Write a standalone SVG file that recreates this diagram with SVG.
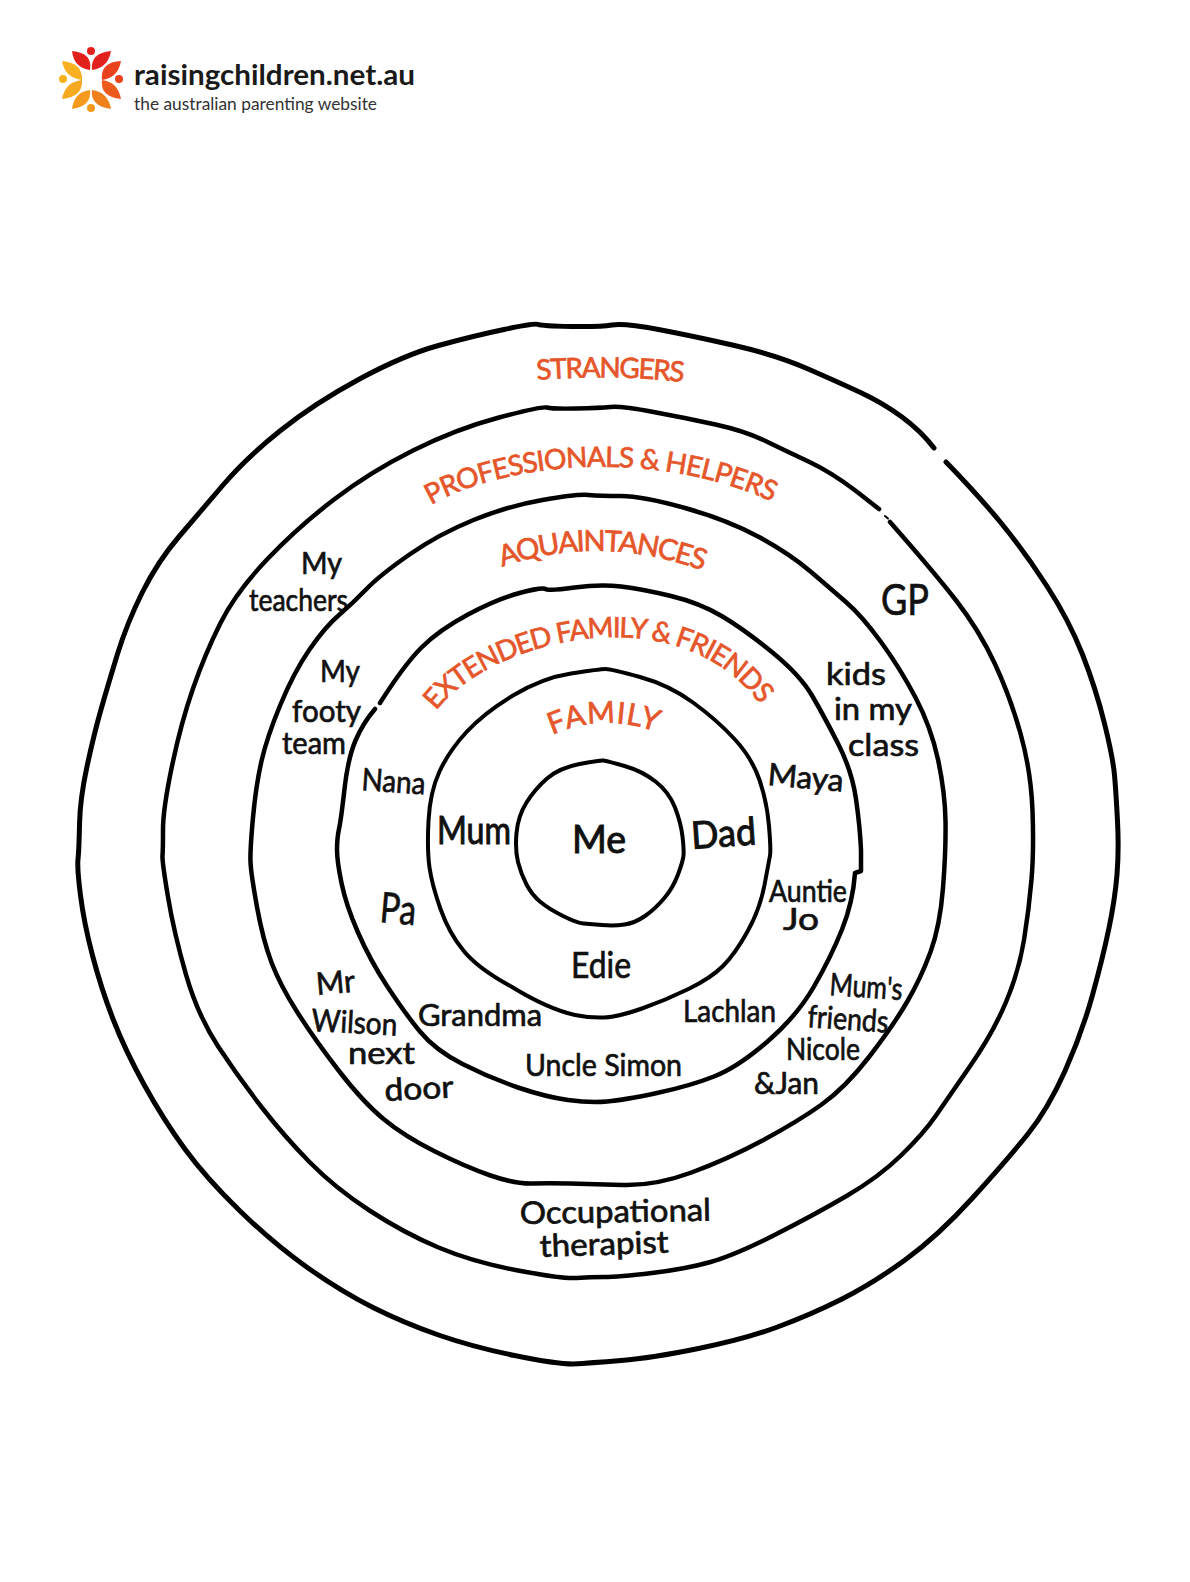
<svg xmlns="http://www.w3.org/2000/svg" width="1190" height="1582" viewBox="0 0 1190 1582">
<style>
.r{fill:none;stroke:#000;stroke-linejoin:round;stroke-linecap:round}
.n{font-family:Lato,"Liberation Sans",sans-serif;font-size:31px;fill:#111;stroke:#111;stroke-width:.7px}
.b{font-size:38px;stroke-width:1px}
.o{font-family:Lato,"Liberation Sans",sans-serif;fill:#e5562a;stroke:#e5562a;stroke-width:.7px;font-size:28px}
.l1{font-family:Lato,"Open Sans",sans-serif;font-size:29px;font-weight:700;fill:#1a1a1a}
.l2{font-family:Lato,"Open Sans",sans-serif;font-size:18px;fill:#333}
</style>
<defs>
<path id="p1" d="M537 380Q610 374 684 382"/>
<path id="p2" d="M431 505C500 465 650 445 775 503"/>
<path id="p3" d="M502 567Q600 533 704 571"/>
<path id="p4" d="M436 711C490 640 680 590 763 708"/>
<path id="p5" d="M552 735Q605 712 659 733"/>
</defs>
<rect width="1190" height="1582" fill="#fff"/>
<g id="logo">
<circle cx="91" cy="51" r="4" fill="#e2211c"/><circle cx="119" cy="79" r="4" fill="#e8431c"/><circle cx="91" cy="108" r="4" fill="#f59a1d"/><circle cx="63" cy="79" r="4" fill="#f7b31f"/>
<path d="M72 51Q93 53 90 70Q74 68 72 51Z" fill="#e2211c"/>
<path d="M111 51Q90 53 92 70Q108 68 111 51Z" fill="#e2211c"/>
<path d="M121 61Q100 62 102 80Q118 78 121 61Z" fill="#e8431c"/>
<path d="M121 99Q118 82 102 80Q100 97 121 99Z" fill="#ec5a1c"/>
<path d="M111 109Q108 92 92 90Q90 106 111 109Z" fill="#f0801c"/>
<path d="M72 109Q74 92 90 90Q92 106 72 109Z" fill="#f59a1d"/>
<path d="M62 99Q65 82 82 80Q83 97 62 99Z" fill="#f6a81e"/>
<path d="M62 61Q65 78 82 80Q83 63 62 61Z" fill="#f7b01f"/>
<text class="l1" x="134" y="85" textLength="281" lengthAdjust="spacingAndGlyphs">raisingchildren.net.au</text>
<text class="l2" x="134" y="110" textLength="243" lengthAdjust="spacingAndGlyphs">the australian parenting website</text>
</g>
<g id="ring-strangers">
<path class="r" stroke-width="5" d="M946 462Q979 496 1001.5 523.5Q1024 551 1046.5 585.5Q1069 620 1082.5 654.5Q1096 689 1104.5 723.5Q1113 758 1114.5 775Q1116 792 1117.5 821Q1119 850 1117 874.5Q1115 899 1109 928Q1103 957 1092.5 995Q1082 1033 1065 1071Q1048 1109 1027.5 1134.5Q1007 1160 972.5 1198Q938 1236 905 1260Q872 1284 841 1299.5Q810 1315 777.5 1327Q745 1339 698.5 1348.5Q652 1358 621 1360.5Q590 1363 573 1364Q556 1364 514.5 1355.5Q473 1347 438.5 1335Q404 1323 373 1307.5Q342 1292 308 1268Q274 1244 240 1211Q206 1178 184.5 1148.5Q163 1119 144 1084.5Q125 1050 113 1019Q101 988 92.5 955.5Q84 923 80.5 895.5Q77 868 78 859Q79 850 79.5 824.5Q80 799 87 766.5Q94 734 101 709.5Q108 685 117.5 654Q127 623 142.5 592Q158 561 179.5 536Q201 511 223.5 484.5Q246 458 280.5 430.5Q315 403 359.5 379Q404 355 438.5 345.5Q473 336 504 329.5Q535 323 538.5 324.5Q542 326 571 326.5Q600 327 612 325Q624 323 658.5 329.5Q693 336 734.5 345.5Q776 355 807 368.5Q838 382 860.5 392.5Q883 403 902 417Q921 431 934 448"/>
<text class="o"><textPath href="#p1" textLength="147" lengthAdjust="spacing">STRANGERS</textPath></text>
</g>
<g id="ring-professionals">
<path class="r" stroke-width="4.5" d="M890 522Q934 572 956.5 601Q979 630 994.5 663Q1010 696 1020.5 733.5Q1031 771 1032.5 810.5Q1034 850 1031.5 879.5Q1029 909 1024 940Q1019 971 1006 1002Q993 1033 970.5 1065.5Q948 1098 936 1115.5Q924 1133 901.5 1155Q879 1177 846.5 1196Q814 1215 774.5 1235Q735 1255 710.5 1262Q686 1269 652 1273Q618 1277 604 1277Q590 1277 576.5 1278Q563 1279 518 1270.5Q473 1262 438.5 1247.5Q404 1233 369.5 1210.5Q335 1188 309.5 1162Q284 1136 261.5 1107Q239 1078 218.5 1047Q198 1016 186 974.5Q174 933 168 897Q162 861 162.5 855.5Q163 850 163 829.5Q163 809 172 766Q181 723 193 688.5Q205 654 220.5 623Q236 592 267 559.5Q298 527 334 499.5Q370 472 413 450.5Q456 429 499 417.5Q542 406 547 407.5Q552 409 576 408.5Q600 408 610.5 407Q621 406 653.5 412Q686 418 715.5 424.5Q745 431 765.5 441Q786 451 808.5 461.5Q831 472 856 491L879 509"/>
<path class="r" stroke-width="2" d="M885 516L888 518.5"/>
<text class="o"><textPath href="#p2" textLength="352" lengthAdjust="spacing">PROFESSIONALS &amp; HELPERS</textPath></text>
<text class="n" x="881" y="615" style="font-size:42px" textLength="48" lengthAdjust="spacingAndGlyphs">GP</text>
<text class="n" x="520" y="1224" transform="rotate(-1 520 1224)" textLength="191" lengthAdjust="spacingAndGlyphs">Occupational</text>
<text class="n" x="540" y="1257" transform="rotate(-2 540 1257)" textLength="129" lengthAdjust="spacingAndGlyphs">therapist</text>
<text class="n" x="301" y="574" textLength="41" lengthAdjust="spacingAndGlyphs">My</text>
<text class="n" x="249" y="611" textLength="99" lengthAdjust="spacingAndGlyphs">teachers</text>
</g>
<g id="ring-aquaintances">
<path class="r" stroke-width="4.5" d="M250.5 862Q250 850 253 817.5Q256 785 261.5 761Q267 737 280.5 704.5Q294 672 309.5 649.5Q325 627 339 615Q353 603 366.5 589Q380 575 409.5 554.5Q439 534 473.5 520Q508 506 542.5 500Q577 494 588.5 495Q600 496 621 496Q642 496 685 508Q728 520 759 537Q790 554 810.5 571.5Q831 589 846.5 602.5Q862 616 881 642Q900 668 915.5 697.5Q931 727 938 759.5Q945 792 945.5 821Q946 850 943 888Q940 926 930.5 952Q921 978 907 1002Q893 1026 869 1057Q845 1088 821 1105Q797 1122 762.5 1140.5Q728 1159 691.5 1172.5Q655 1186 622.5 1185Q590 1184 569.5 1183.5Q549 1183 532 1183.5Q515 1184 490.5 1175.5Q466 1167 435 1151.5Q404 1136 383.5 1119Q363 1102 339 1071Q315 1040 297.5 1012.5Q280 985 271.5 962.5Q263 940 257 907Q251 874 250.5 862Z"/>
<text class="o" style="font-size:29px"><textPath href="#p3" textLength="205" lengthAdjust="spacing">AQUAINTANCES</textPath></text>
<text class="n" x="320" y="682" textLength="40" lengthAdjust="spacingAndGlyphs">My</text>
<text class="n" x="292" y="722" textLength="69" lengthAdjust="spacingAndGlyphs">footy</text>
<text class="n" x="282" y="754" textLength="64" lengthAdjust="spacingAndGlyphs">team</text>
<text class="n" x="826" y="685" textLength="60" lengthAdjust="spacingAndGlyphs">kids</text>
<text class="n" x="834" y="720" textLength="78" lengthAdjust="spacingAndGlyphs">in my</text>
<text class="n" x="848" y="756" textLength="71" lengthAdjust="spacingAndGlyphs">class</text>
<text class="n" x="317" y="995" transform="rotate(-5 317 995)" textLength="39" lengthAdjust="spacingAndGlyphs">Mr</text>
<text class="n" x="311" y="1031" transform="rotate(3 311 1031)" textLength="86" lengthAdjust="spacingAndGlyphs">Wilson</text>
<text class="n" x="348" y="1064" textLength="67" lengthAdjust="spacingAndGlyphs">next</text>
<text class="n" x="385" y="1101" transform="rotate(-3 385 1101)" textLength="69" lengthAdjust="spacingAndGlyphs">door</text>
<text class="n" x="829" y="995" transform="rotate(4 829 995)" textLength="73" lengthAdjust="spacingAndGlyphs">Mum's</text>
<text class="n" x="807" y="1027" transform="rotate(4 807 1027)" textLength="81" lengthAdjust="spacingAndGlyphs">friends</text>
<text class="n" x="786" y="1060" textLength="74" lengthAdjust="spacingAndGlyphs">Nicole</text>
<text class="n" x="754" y="1094" textLength="65" lengthAdjust="spacingAndGlyphs">&amp;Jan</text>
</g>
<g id="ring-extended">
<path class="r" stroke-width="4.5" d="M380 703Q404 665 421.5 647.5Q439 630 468 614.5Q497 599 519.5 593Q542 587 545.5 589Q549 591 574.5 587.5Q600 584 621 586.5Q642 589 671 596Q700 603 722.5 616.5Q745 630 772.5 652.5Q800 675 812 695.5Q824 716 838 743.5Q852 771 856 799Q860 827 861 850L861 871L855 873Q853 902 842 929.5Q831 957 814 986.5Q797 1016 767.5 1041.5Q738 1067 714 1076.5Q690 1086 657 1093Q624 1100 607 1101.5Q590 1103 568 1100Q546 1097 518 1087.5Q490 1078 462.5 1064Q435 1050 419.5 1031Q404 1012 387 986Q370 960 358 932.5Q346 905 341.5 883Q337 861 337 850Q337 838 339 829Q341 820 344.5 789Q348 758 355.5 740.5Q363 723 375 709"/>
<text class="o"><textPath href="#p4" textLength="366" lengthAdjust="spacing">EXTENDED FAMILY &amp; FRIENDS</textPath></text>
<text class="n" x="361" y="790" transform="rotate(4 361 790)" textLength="64" lengthAdjust="spacingAndGlyphs">Nana</text>
<text class="n" x="767" y="785" transform="rotate(5 767 785)" textLength="76" lengthAdjust="spacingAndGlyphs">Maya</text>
<text class="n" x="769" y="902" textLength="78" lengthAdjust="spacingAndGlyphs">Auntie</text>
<text class="n" x="783" y="930" textLength="36" lengthAdjust="spacingAndGlyphs">Jo</text>
<text class="n" x="379" y="922" transform="rotate(5 379 922)" style="font-size:42px" textLength="36" lengthAdjust="spacingAndGlyphs">Pa</text>
<text class="n" x="418" y="1026" textLength="124" lengthAdjust="spacingAndGlyphs">Grandma</text>
<text class="n" x="683" y="1022" textLength="93" lengthAdjust="spacingAndGlyphs">Lachlan</text>
<text class="n" x="525" y="1076" textLength="157" lengthAdjust="spacingAndGlyphs">Uncle Simon</text>
</g>
<g id="ring-family">
<path class="r" stroke-width="4" d="M429.5 867.5Q427 850 428.5 821Q430 792 439.5 771.5Q449 751 466.5 732Q484 713 513 695.5Q542 678 571 673.5Q600 669 605.5 669Q611 669 640 677Q669 685 693 702.5Q717 720 734.5 739Q752 758 759.5 780Q767 802 769 826Q771 850 770 855.5Q769 861 764.5 885Q760 909 747.5 931.5Q735 954 723 966Q711 978 688.5 989Q666 1000 642 1008.5Q618 1017 604 1017.5Q590 1018 575 1015Q548 1009 512 987Q477 968 463 950Q449 933 440.5 909Q432 885 429.5 867.5Z"/>
<text class="o" style="font-size:30px"><textPath href="#p5" textLength="107" lengthAdjust="spacing">FAMILY</textPath></text>
<text class="n b" x="437" y="844" textLength="74" lengthAdjust="spacingAndGlyphs">Mum</text>
<text class="n b" x="692" y="849" transform="rotate(-4 692 849)" textLength="65" lengthAdjust="spacingAndGlyphs">Dad</text>
<text class="n b" x="571" y="978" style="font-size:36px;stroke-width:.7px" textLength="60" lengthAdjust="spacingAndGlyphs">Edie</text>
</g>
<g id="ring-me">
<path class="r" stroke-width="4" d="M518 862Q515 850 516.5 833Q518 816 526.5 802.5Q535 789 547 778.5Q559 768 579.5 764Q600 760 603.5 760.5Q607 761 624.5 766Q642 771 655.5 781.5Q669 792 675 807.5Q681 823 682.5 836.5Q684 850 683.5 855.5Q683 861 678 874.5Q673 888 664 898.5Q655 909 645 916Q635 923 624.5 924.5Q614 926 602 925Q590 924 583.5 923.5Q577 923 563 916Q549 909 540.5 902Q532 895 526.5 884.5Q521 874 518 862Z"/>
<text class="n b" x="572" y="853" textLength="54" lengthAdjust="spacingAndGlyphs">Me</text>
</g>
</svg>
